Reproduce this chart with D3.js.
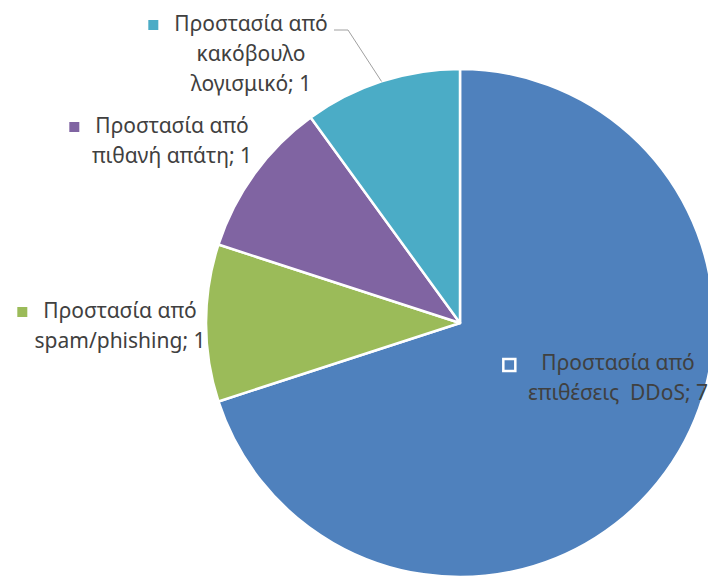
<!DOCTYPE html>
<html>
<head>
<meta charset="utf-8">
<script src="https://cdn.jsdelivr.net/npm/d3@7"></script>
<style>
  html, body { margin: 0; padding: 0; background: #fff; }
  svg { display: block; }
  .lbl { font-family: "Noto Sans", "Open Sans", sans-serif; fill: #404040; }
</style>
</head>
<body>
<svg id="chart" width="708" height="580"></svg>
<script>
// Data
const categories = [
  "Προστασία από επιθέσεις DDoS",
  "Προστασία από spam/phishing",
  "Προστασία από πιθανή απάτη",
  "Προστασία από κακόβουλο λογισμικό"
];
const values = [7, 1, 1, 1];
const colors = ["#4F81BD", "#9BBB59", "#8064A2", "#4BACC6"];
// Label text, split into the lines each data label wraps to
const labelLines = [
  ["Προστασία από", "επιθέσεις  DDoS; " + values[0]],
  ["Προστασία από", "spam/phishing; " + values[1]],
  ["Προστασία από", "πιθανή απάτη; " + values[2]],
  ["Προστασία από", "κακόβουλο", "λογισμικό; " + values[3]]
];

// Layout
const cx = 460, cy = 323, R = 254;
const fontSize = 21, lineH = 30;
// label block: centre x of text lines and baseline of the first line
const labelPos = [
  { x: 618, y: 370 },
  { x: 120, y: 318 },
  { x: 172, y: 133 },
  { x: 251, y: 31 }
];

const svg = d3.select("#chart");
const g = svg.append("g").attr("transform", `translate(${cx},${cy})`);

const data = categories.map((c, i) => ({ name: c, value: values[i], color: colors[i], i }));
const pie = d3.pie().value(d => d.value).sort(null).startAngle(0).endAngle(2 * Math.PI);
const arc = d3.arc().innerRadius(0).outerRadius(R);
const arcs = pie(data);

g.selectAll("path.slice")
  .data(arcs)
  .join("path")
  .attr("class", "slice")
  .attr("d", arc)
  .attr("fill", d => d.data.color)
  .attr("stroke", "#fff")
  .attr("stroke-width", 2.5)
  .attr("stroke-linejoin", "round");

// Leader line for the malware label, ending on its slice's outer edge
{
  const a = arcs[3];
  const mid = (a.startAngle + a.endAngle) / 2;
  const end = [cx + R * Math.sin(mid), cy - R * Math.cos(mid)];
  const lp = labelPos[3];
  svg.append("polyline")
    .attr("points", [[lp.x + 83, lp.y - 1], [lp.x + 97, lp.y - 1], end].map(p => p.join(",")).join(" "))
    .attr("fill", "none")
    .attr("stroke", "#a0a0a0")
    .attr("stroke-width", 1);
}

// Data labels with legend key
const labels = svg.selectAll("g.label")
  .data(data)
  .join("g")
  .attr("class", "label");

labels.each(function (d) {
  const sel = d3.select(this);
  const p = labelPos[d.i];
  const t = sel.append("text")
    .attr("class", "lbl")
    .attr("font-size", fontSize)
    .attr("text-anchor", "middle");
  labelLines[d.i].forEach((line, k) => {
    t.append("tspan")
      .attr("x", p.x)
      .attr("y", p.y + k * lineH)
      .attr("xml:space", "preserve")
      .text(line);
  });
  const first = t.select("tspan").node();
  const w = first.getComputedTextLength();
  const left = p.x - w / 2;
  const isInside = d.i === 0;
  const ks = isInside ? 12 : 10;
  sel.append("rect")
    .attr("x", left - (isInside ? 38 : 26))
    .attr("y", p.y - 11)
    .attr("width", ks)
    .attr("height", ks)
    .attr("fill", d.color)
    .attr("stroke", isInside ? "#fff" : "none")
    .attr("stroke-width", isInside ? 2.5 : 0);
});
</script>
</body>
</html>
